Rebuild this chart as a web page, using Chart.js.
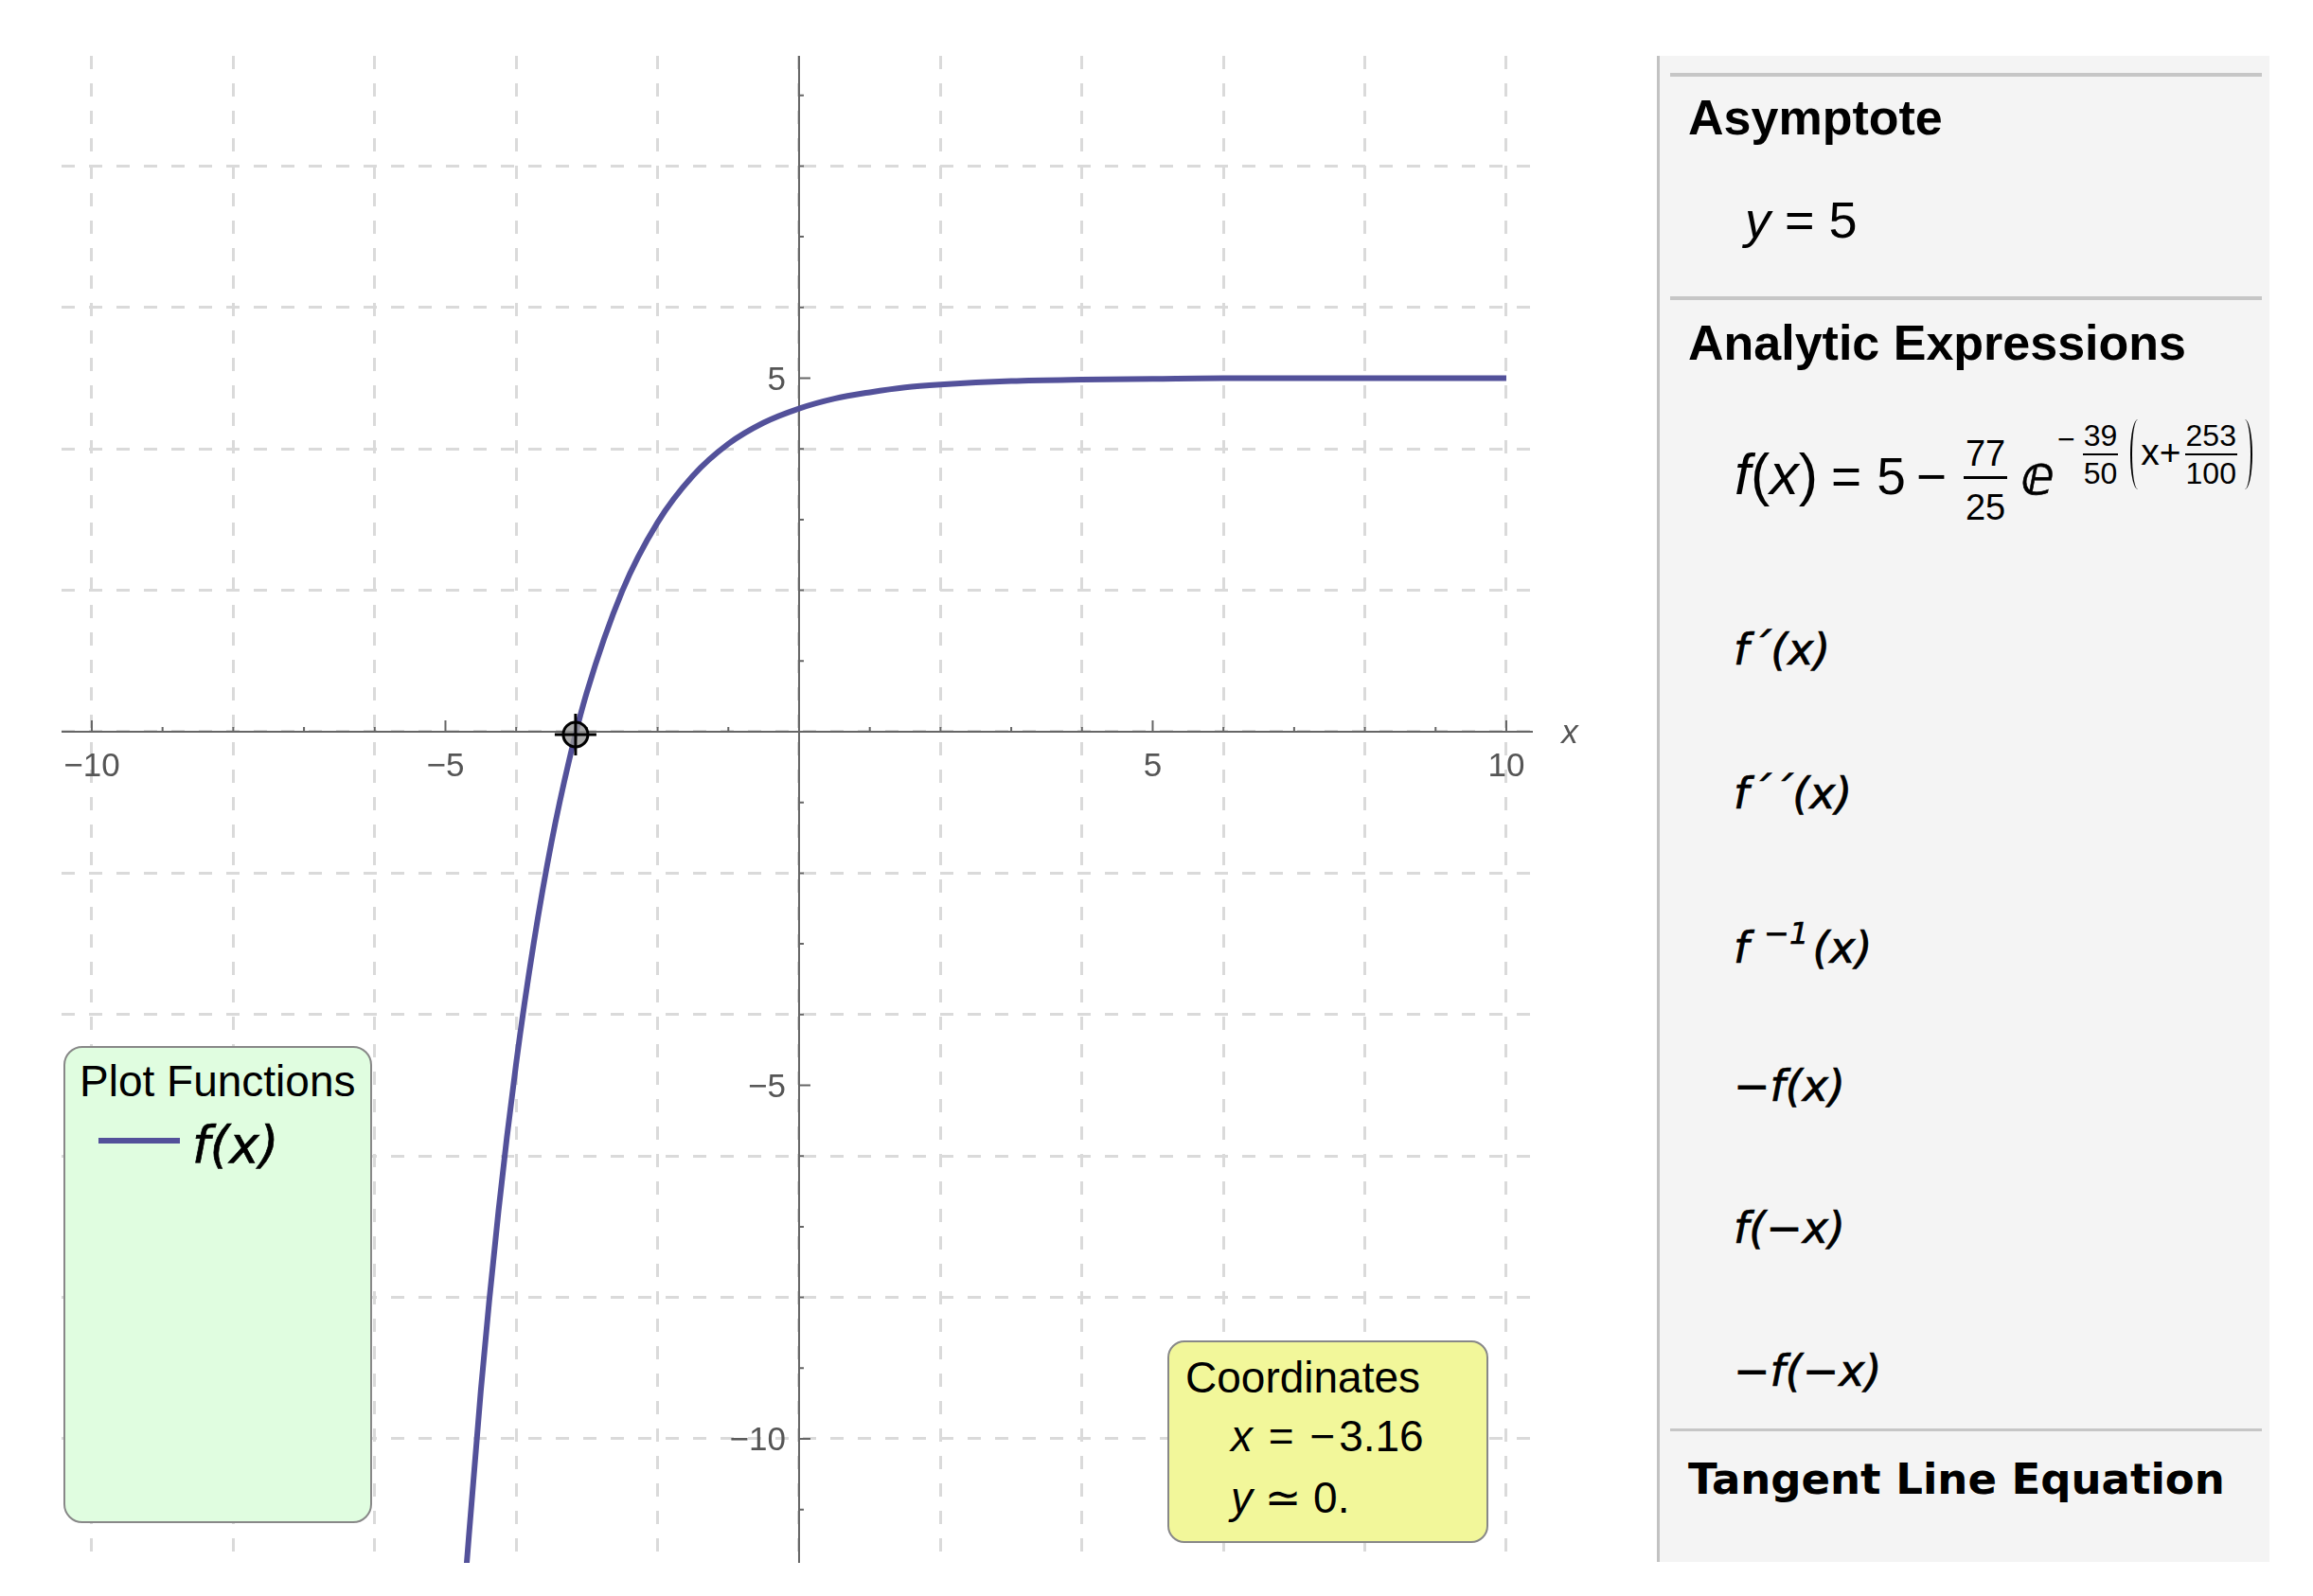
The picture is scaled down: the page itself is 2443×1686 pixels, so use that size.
<!DOCTYPE html>
<html>
<head>
    <title>f(x) plot</title>
    <script src="https://cdn.jsdelivr.net/npm/chart.js"></script>
    <style>
        body { margin: 0; width: 2443px; height: 1686px; background: #fff; overflow: hidden; position: relative; font-family: "Liberation Sans", "DejaVu Sans", sans-serif; color: #000; }
        .abs { position: absolute; white-space: nowrap; line-height: 1; }
        #wrap { position: absolute; left: 0; top: 0; width: 1700px; height: 1686px; }
        #panel { position: absolute; left: 1750px; top: 59px; width: 647px; height: 1591px; background: #f4f4f4; border-left: 3px solid #c2c2c2; box-sizing: border-box; }
        .sep { position: absolute; left: 1764px; width: 625px; height: 4px; background: #c6c6c6; }
        .hd { font-weight: bold; font-size: 52px; left: 1783px; }
        .fn { font-family: "DejaVu Sans", sans-serif; font-style: oblique; font-size: 46px; left: 1831px; -webkit-text-stroke: 0.7px #000; }
        .box { position: absolute; box-sizing: border-box; border: 2.5px solid #888; }
        #formula { font-size: 55px; left: 1832px; top: 460px; }
        .frac { display: inline-block; text-align: center; vertical-align: -27px; }
        .frac .n { display: block; line-height: 1; padding: 0 2px 5px; border-bottom: 3px solid #000; }
        .frac .d { display: block; line-height: 1; padding-top: 11px; }
        #expo { display: flex; align-items: center; height: 74px; left: 2173px; top: 443px; }
        #expo .frac { vertical-align: baseline; }
        #expo .frac .n { font-size: 32px; padding: 0 1px 3px; border-bottom: 2px solid #000; }
        #expo .frac .d { font-size: 32px; padding-top: 3px; }
        .par { display: inline-block; width: 8px; height: 74px; box-sizing: border-box; }
        .par.l { border-left: 2.5px solid #000; border-radius: 100% 0 0 100% / 50% 0 0 50%; margin: 0 3px 0 13px; }
        .par.r { border-right: 2.5px solid #000; border-radius: 0 100% 100% 0 / 0 50% 50% 0; margin-left: 8px; }
    </style>
</head>
<body>
    <div id="wrap"><canvas id="plot"></canvas></div>

    <!-- legend box -->
    <div class="box" style="left:67px; top:1105px; width:326px; height:504px; background:#e0fde0; border-radius:20px;"></div>
    <div class="abs" style="left:84px; top:1119px; font-size:46px;">Plot Functions</div>
    <div class="abs" style="left:104px; top:1202px; width:86px; height:6px; background:#53519a;"></div>
    <div class="abs" style="left:203px; top:1183px; font-size:53px; font-family:'DejaVu Sans'; font-style:oblique; -webkit-text-stroke:0.7px #000;">f(x)</div>

    <!-- coordinates box -->
    <div class="box" style="left:1233px; top:1416px; width:339px; height:214px; background:#f2f79a; border-radius:18px;"></div>
    <div class="abs" style="left:1252px; top:1432px; font-size:46px;">Coordinates</div>
    <div class="abs" style="left:1300px; top:1494px; font-size:46px; word-spacing:4px;"><i>x</i> = −&#8202;3.16</div>
    <div class="abs" style="left:1300px; top:1559px; font-size:46px;"><i>y</i> ≃ 0.</div>

    <!-- right panel -->
    <div id="panel"></div>
    <div class="sep" style="top:77px"></div>
    <div class="abs hd" style="top:98px">Asymptote</div>
    <div class="abs" style="left:1843px; top:205px; font-size:54px;"><i>y</i> = 5</div>
    <div class="sep" style="top:313px"></div>
    <div class="abs hd" style="top:336px">Analytic Expressions</div>
    <div class="abs" id="formula"><span style="font-size:61px"><i>f</i>(<i>x</i>)</span><span style="margin-left:14px">=</span><span style="margin-left:16px">5</span><span style="margin-left:11px">−</span><span class="frac" style="font-size:38px; margin-left:18px"><span class="n">77</span><span class="d">25</span></span><span style="font-family:'DejaVu Sans'; font-size:58px; margin-left:14px; -webkit-text-stroke:0.6px #000;">ⅇ</span></div>
    <div class="abs" id="expo">
        <span style="font-size:32px; position:relative; top:-16px;">−</span>
        <span class="frac" style="margin-left:8px"><span class="n">39</span><span class="d">50</span></span>
        <span class="par l"></span>
        <span style="font-size:39px; position:relative; top:-3px;">x+</span>
        <span class="frac" style="margin-left:4px"><span class="n">253</span><span class="d">100</span></span>
        <span class="par r"></span>
    </div>
    <div class="abs fn" style="top:663px">f´(x)</div>
    <div class="abs fn" style="top:815px">f´´(x)</div>
    <div class="abs fn" style="top:970px">f<span style="font-size:32px; vertical-align:20px; margin:0 4px 0 16px;">−1</span>(x)</div>
    <div class="abs fn" style="top:1124px">−f(x)</div>
    <div class="abs fn" style="top:1274px">f(−x)</div>
    <div class="abs fn" style="top:1425px">−f(−x)</div>
    <div class="sep" style="top:1509px; height:3px"></div>
    <div class="abs" style="left:1783px; top:1540px; font-family:'DejaVu Sans'; font-weight:bold; font-size:45px;">Tangent Line Equation</div>

    <script>
        // f(x)
        const curveX = [-4.75, -4.5, -4.25, -4, -3.75, -3.5, -3.25, -3, -2.5, -2, -1.5, -1, -0.5, 0, 0.5, 1, 1.5, 2, 3, 4, 5, 6, 8, 10];
        const curveY = [-12.40, -9.32, -6.78, -4.69, -2.98, -1.56, -0.40, 0.56, 1.99, 2.96, 3.62, 4.07, 4.37, 4.57, 4.71, 4.80, 4.87, 4.91, 4.96, 4.98, 4.99, 5.00, 5.00, 5.00];

        // the point under the cursor
        const markX = -3.16;
        const markY = -0.04;

        // grid and ticks
        const gridX = [-10, -8, -6, -4, -2, 0, 2, 4, 6, 8, 10];
        const gridY = [-10, -8, -6, -4, -2, 0, 2, 4, 6, 8];
        const xMinor = [-10, -9, -8, -7, -6, -5, -4, -3, -2, -1, 1, 2, 3, 4, 5, 6, 7, 8, 9, 10];
        const yMinor = [-11, -10, -9, -8, -7, -6, -5, -4, -3, -2, -1, 1, 2, 3, 4, 5, 6, 7, 8, 9];
        const xLabels = [-10, -5, 5, 10];
        const yLabels = [-10, -5, 5];

        const curveColor = '#53519a';

        function fmt(v) {
            return v < 0 ? '\u2212' + Math.abs(v) : String(v);
        }

        // Mathematica style axes through the origin
        const axesPlugin = {
            id: 'mathAxes',
            beforeDatasetsDraw(chart) {
                const {ctx, chartArea: a, scales: {x, y}} = chart;
                const x0 = x.getPixelForValue(0);
                const y0 = y.getPixelForValue(0);
                ctx.save();
                ctx.strokeStyle = '#666';
                ctx.lineWidth = 2;
                ctx.beginPath();
                ctx.moveTo(a.left, y0); ctx.lineTo(a.right, y0);
                ctx.moveTo(x0, a.top); ctx.lineTo(x0, a.bottom);
                xMinor.forEach(v => {
                    const px = x.getPixelForValue(v);
                    const len = xLabels.includes(v) ? 12 : 5;
                    ctx.moveTo(px, y0); ctx.lineTo(px, y0 - len);
                });
                yMinor.forEach(v => {
                    const py = y.getPixelForValue(v);
                    const len = yLabels.includes(v) ? 12 : 5;
                    ctx.moveTo(x0, py); ctx.lineTo(x0 + len, py);
                });
                ctx.stroke();

                ctx.fillStyle = '#555';
                ctx.font = '35px "Liberation Sans"';
                ctx.textBaseline = 'alphabetic';
                ctx.textAlign = 'center';
                xLabels.forEach(v => ctx.fillText(fmt(v), x.getPixelForValue(v), y0 + 47));
                ctx.textAlign = 'right';
                yLabels.forEach(v => ctx.fillText(fmt(v), x0 - 14, y.getPixelForValue(v) + 12.5));
                ctx.font = 'italic 35px "Liberation Sans"';
                ctx.textAlign = 'center';
                ctx.fillText('x', a.right + 39, y0 + 12);
                ctx.restore();
            }
        };

        new Chart(document.getElementById('plot'), {
            type: 'line',
            data: {
                datasets: [
                    {
                        label: 'f(x)',
                        data: curveX.map((v, i) => ({x: v, y: curveY[i]})),
                        borderColor: curveColor,
                        borderWidth: 6,
                        pointRadius: 0,
                        cubicInterpolationMode: 'monotone',
                        clip: 0,
                        order: 3
                    },
                    {
                        data: [{x: markX, y: markY}],
                        showLine: false,
                        pointStyle: 'circle',
                        pointRadius: 13,
                        pointBackgroundColor: 'rgba(150,150,150,0.8)',
                        pointBorderColor: '#000',
                        pointBorderWidth: 3,
                        order: 2
                    },
                    {
                        data: [{x: markX, y: markY}],
                        showLine: false,
                        pointStyle: 'cross',
                        pointRadius: 22,
                        pointBorderColor: '#000',
                        pointBorderWidth: 3,
                        order: 1
                    }
                ]
            },
            options: {
                responsive: true,
                maintainAspectRatio: false,
                animation: false,
                events: [],
                layout: { padding: { left: 65, top: 59, right: 81, bottom: 35 } },
                plugins: { legend: { display: false }, tooltip: { enabled: false } },
                scales: {
                    x: {
                        type: 'linear',
                        min: -10.428,
                        max: 10.375,
                        afterBuildTicks: axis => { axis.ticks = gridX.map(v => ({value: v})); },
                        ticks: { display: false },
                        border: { display: false, dash: [14, 15] },
                        grid: { color: '#dadada', lineWidth: 3, drawTicks: false }
                    },
                    y: {
                        type: 'linear',
                        min: -11.754,
                        max: 9.558,
                        afterBuildTicks: axis => { axis.ticks = gridY.map(v => ({value: v})); },
                        ticks: { display: false },
                        border: { display: false, dash: [14, 15] },
                        grid: { color: '#dadada', lineWidth: 3, drawTicks: false }
                    }
                }
            },
            plugins: [axesPlugin]
        });
    </script>
</body>
</html>
